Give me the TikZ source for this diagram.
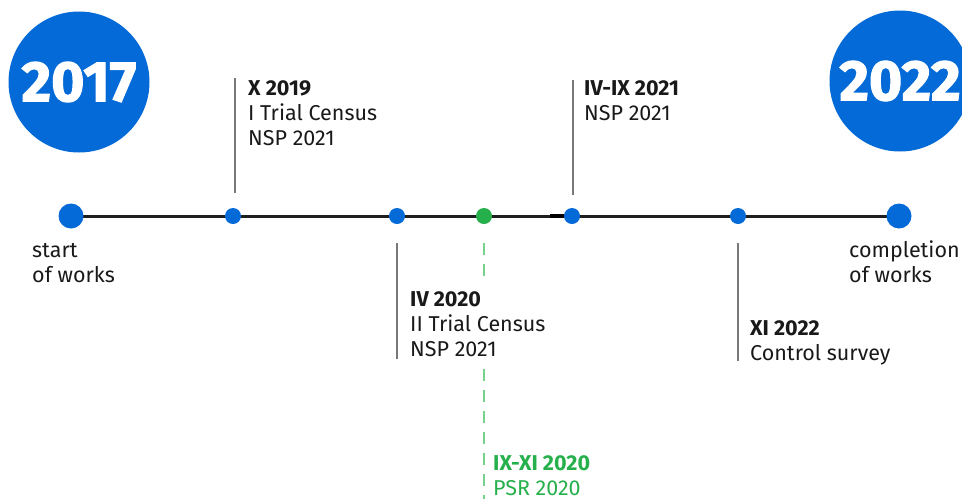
\documentclass[tikz,border=0pt]{standalone}
\usepackage{fontspec}
\setmainfont{Fira Sans}
\newfontfamily\yearfont{Fira Sans}[BoldFeatures={FakeBold=2}]
\definecolor{cblue}{RGB}{4,106,216}
\definecolor{cgreen}{RGB}{38,176,76}
\definecolor{cgreenl}{RGB}{120,208,140}
\definecolor{cline}{RGB}{30,30,30}
\definecolor{cgray}{RGB}{120,120,120}
\begin{document}
\begin{tikzpicture}[x=1pt,y=-1pt,
  txt/.style={inner sep=0pt,anchor=base west,align=left,font=\fontsize{21.5}{24.8}\selectfont,text=black!90},
  bigdot/.style={circle,fill=cblue,minimum size=25pt,inner sep=0pt},
  smalldot/.style={circle,fill=cblue,minimum size=16pt,inner sep=0pt},
  tick/.style={draw=cgray,line width=1.5pt},
  yearcirc/.style={circle,fill=cblue,minimum size=141pt,inner sep=0pt,text=white,font=\yearfont\bfseries\fontsize{57}{57}\selectfont}]
\useasboundingbox (0,0) rectangle (962,499);
\begin{scope}
\clip (0,0) rectangle (962,499);
\node[yearcirc] (y17) at (79,82) {\raisebox{-2pt}{2017}};
\node[yearcirc] (y22) at (900,81) {\raisebox{-2pt}{2022}};
\end{scope}
% timeline
\coordinate (ls) at (71,216);
\coordinate (le) at (899,216);
\draw[cline,line width=3pt] (ls) -- (le);
\coordinate (tks) at (550,216);
\coordinate (tke) at (568,216);
\draw[black,line width=3.8pt] (tks) -- (tke);
% ticks
\coordinate (t1a) at (235,78); \coordinate (t1b) at (235,193);
\coordinate (t2a) at (573,80); \coordinate (t2b) at (573,195);
\coordinate (t3a) at (397,243); \coordinate (t3b) at (397,359);
\coordinate (t4a) at (738,243); \coordinate (t4b) at (738,361);
\coordinate (g1) at (484,243); \coordinate (g2) at (484,499);
\draw[tick] (t1a) -- (t1b);
\draw[tick] (t2a) -- (t2b);
\draw[tick] (t3a) -- (t3b);
\draw[tick] (t4a) -- (t4b);
\draw[cgreenl,line width=1.6pt,dash pattern=on 12pt off 9pt] (g1) -- (g2);
% dots
\node[bigdot] (d0) at (71,216) {};
\node[smalldot] (d1) at (233,216) {};
\node[smalldot] (d2) at (397,216) {};
\node[smalldot,fill=cgreen] (d3) at (484,216) {};
\node[smalldot] (d4) at (572,216) {};
\node[smalldot] (d5) at (738,216) {};
\node[bigdot] (d6) at (899,216) {};
% texts (anchor = baseline of last line)
\node[txt] (l1) at (248,145) {\textbf{X 2019}\\I Trial Census\\NSP 2021};
\node[txt] (l2) at (584,120) {\textbf{IV-IX 2021}\\NSP 2021};
\node[txt,fill=white,inner ysep=8pt] (l3) at (410,356) {\textbf{IV 2020}\\II Trial Census\\NSP 2021};
\node[txt] (l4) at (750,360) {\textbf{XI 2022}\\Control survey};
\node[txt] (l5) at (32,282) {start\\of works};
\node[txt] (l6) at (849,282) {completion\\of works};
\node[txt,text=cgreen] (l7) at (493,495) {\textbf{IX-XI 2020}\\PSR 2020};
\end{tikzpicture}
\end{document}
